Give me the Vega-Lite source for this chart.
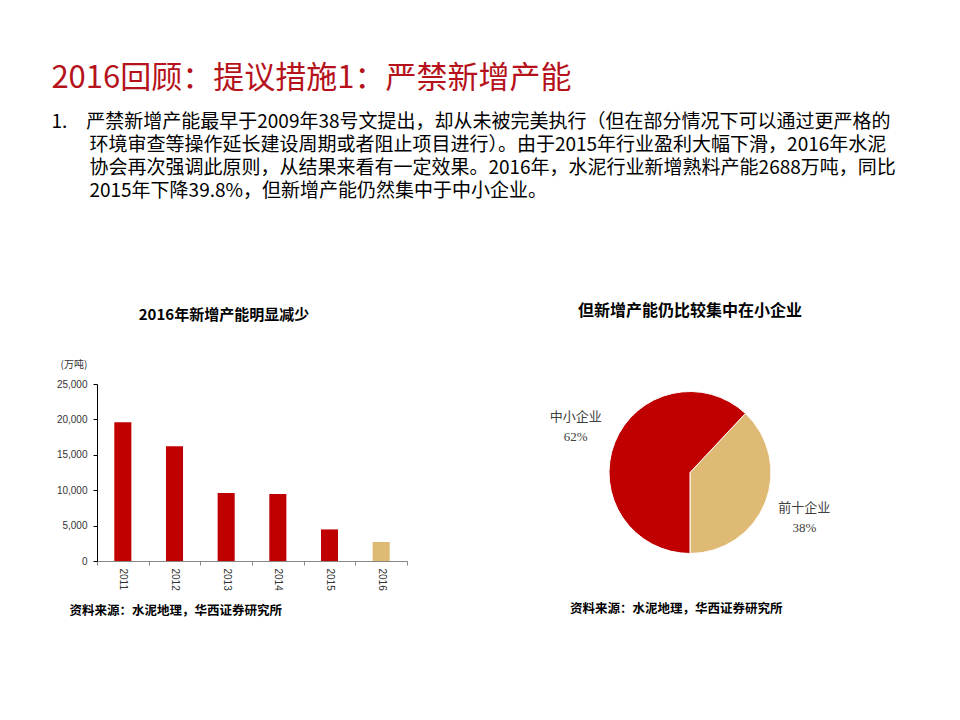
{
  "$schema": "https://vega.github.io/schema/vega-lite/v6.json",
  "background": "white",
  "padding": {"left": 51, "top": 63, "right": 10, "bottom": 10},
  "title": {
    "text": "2016回顾：提议措施1：严禁新增产能",
    "subtitle": [
      "1.\u3000严禁新增产能最早于2009年38号文提出，却从未被完美执行（但在部分情况下可以通过更严格的",
      "\u200b\u3000\u3000环境审查等操作延长建设周期或者阻止项目进行）。由于2015年行业盈利大幅下滑，2016年水泥",
      "\u200b\u3000\u3000协会再次强调此原则，从结果来看有一定效果。2016年，水泥行业新增熟料产能2688万吨，同比",
      "\u200b\u3000\u30002015年下降39.8%，但新增产能仍然集中于中小企业。"
    ],
    "anchor": "start",
    "dx": -5,
    "font": "Noto Sans CJK SC",
    "fontSize": 31,
    "fontWeight": "normal",
    "color": "#B5121B",
    "subtitleFont": "Noto Sans CJK SC",
    "subtitleFontSize": 19,
    "subtitleColor": "#000000",
    "subtitleLineHeight": 23,
    "subtitlePadding": 18,
    "offset": 101
  },
  "spacing": 141,
  "hconcat": [
    {
      "title": {"text": "2016年新增产能明显减少", "font": "Noto Sans CJK SC", "fontSize": 15, "fontWeight": "bold", "color": "#000000", "offset": 36, "anchor": "middle", "dx": -8},
      "vconcat": [
        {
          "width": 310,
          "height": 177,
          "title": {"text": "资料来源：水泥地理，华西证券研究所", "orient": "bottom", "anchor": "start", "dx": 13, "offset": 15, "font": "Noto Sans CJK SC", "fontSize": 12.5, "fontWeight": "bold", "color": "#000000"},
          "data": {"values": [
            {"year": "2011", "capacity": 19600},
            {"year": "2012", "capacity": 16200},
            {"year": "2013", "capacity": 9600},
            {"year": "2014", "capacity": 9480},
            {"year": "2015", "capacity": 4460},
            {"year": "2016", "capacity": 2688}
          ]},
          "mark": {"type": "bar", "width": {"band": 0.33}},
          "encoding": {
            "x": {
              "field": "year", "type": "ordinal",
              "scale": {"paddingInner": 0, "paddingOuter": 0},
              "axis": {"title": null, "labelAngle": 90, "labelFont": "Liberation Sans", "labelFontSize": 10, "labelColor": "#333333", "tickBand": "extent", "tickSize": 4, "domainColor": "#888888", "tickColor": "#888888", "labelPadding": 3}
            },
            "y": {
              "field": "capacity", "type": "quantitative",
              "scale": {"domain": [0, 25000]},
              "axis": {"title": "(万吨)", "titleAngle": 0, "titleAlign": "left", "titleBaseline": "middle", "titleX": -37, "titleY": -20, "titleFont": "Noto Sans CJK SC", "titleFontSize": 10, "titleFontWeight": "normal", "titleColor": "#333333", "format": ",.0f", "values": [0, 5000, 10000, 15000, 20000, 25000], "labelFont": "Liberation Sans", "labelFontSize": 10, "labelColor": "#333333", "domainColor": "#000000", "tickColor": "#000000", "tickSize": 4, "labelPadding": 6, "grid": false}
            },
            "color": {"condition": {"test": "datum.year === '2016'", "value": "#DFBA74"}, "value": "#C00000"}
          }
        }
      ]
    },
    {
      "title": {"text": "但新增产能仍比较集中在小企业", "font": "Noto Sans CJK SC", "fontSize": 16, "fontWeight": "bold", "color": "#000000", "offset": 65, "anchor": "middle"},
      "vconcat": [
        {
          "width": 280,
          "height": 177,
          "title": {"text": "资料来源：水泥地理，华西证券研究所", "orient": "bottom", "anchor": "start", "frame": "group", "dx": 20, "offset": 42, "font": "Noto Sans CJK SC", "fontSize": 12.5, "fontWeight": "bold", "color": "#000000"},
          "data": {"values": [
            {"segment": "前十企业", "share": 0.38},
            {"segment": "中小企业", "share": 0.62}
          ]},
          "encoding": {
            "theta": {"field": "share", "type": "quantitative", "stack": true, "scale": {"range": [0.754, 7.0372]}},
            "order": {"field": "share", "type": "quantitative", "sort": "ascending"}
          },
          "layer": [
            {
              "mark": {"type": "arc", "outerRadius": 81, "stroke": "#ffffff", "strokeWidth": 1},
              "encoding": {"color": {"field": "segment", "type": "nominal", "scale": {"domain": ["中小企业", "前十企业"], "range": ["#C00000", "#DFBA74"]}, "legend": null}}
            },
            {
              "mark": {"type": "text", "radius": 123, "dy": -10, "font": "Noto Sans CJK SC", "fontSize": 13, "color": "#404040"},
              "encoding": {"text": {"field": "segment", "type": "nominal"}}
            },
            {
              "mark": {"type": "text", "radius": 123, "dy": 10, "font": "Liberation Serif", "fontSize": 13, "color": "#404040"},
              "encoding": {"text": {"field": "share", "type": "quantitative", "format": ".0%"}}
            }
          ]
        }
      ]
    }
  ],
  "config": {"view": {"stroke": null}}
}
